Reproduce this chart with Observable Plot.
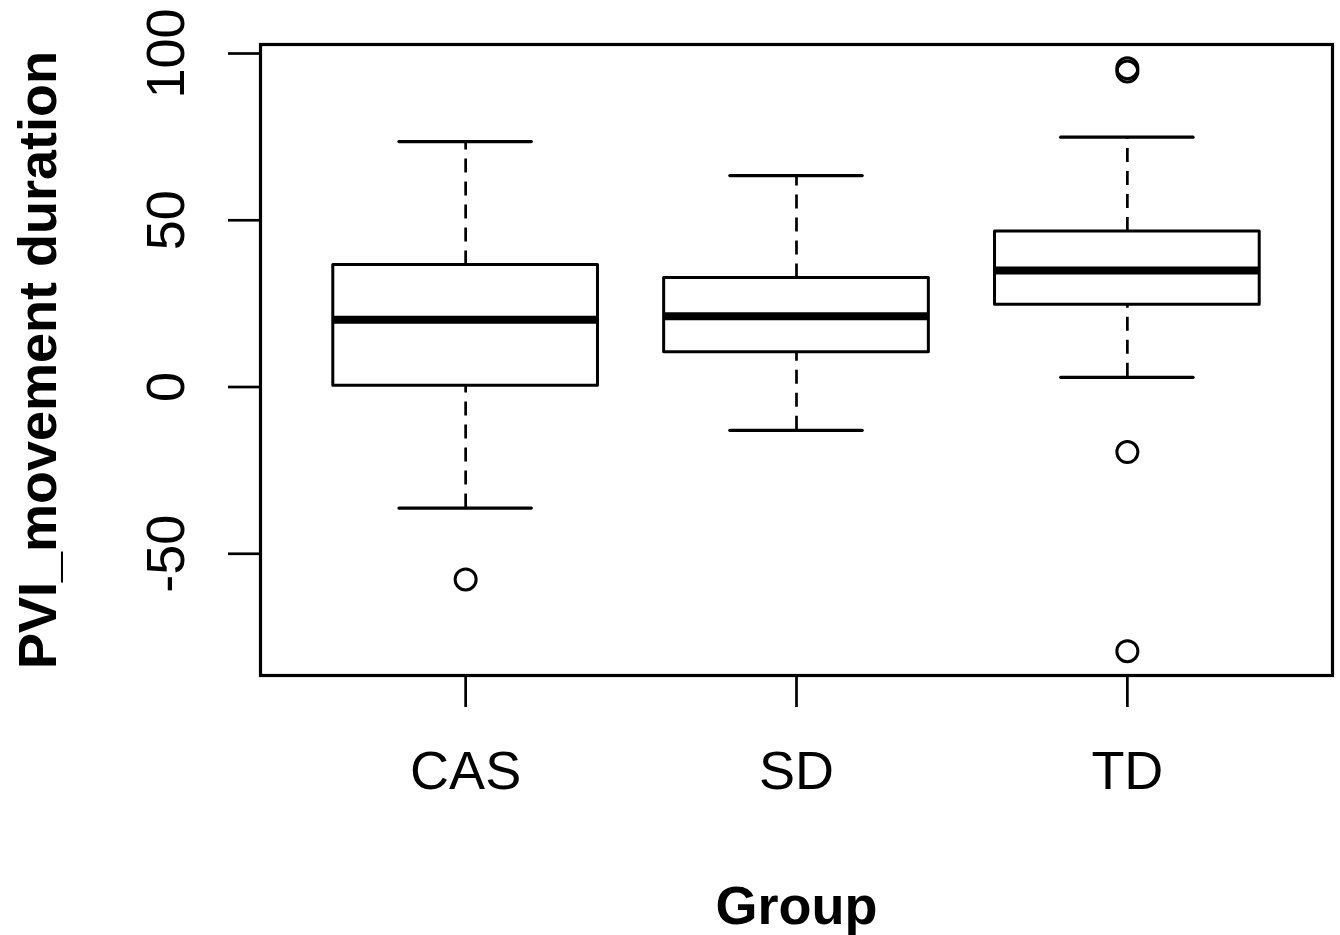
<!DOCTYPE html>
<html>
<head>
<meta charset="utf-8">
<script src="https://cdn.jsdelivr.net/npm/d3@7"></script>
<script src="https://cdn.jsdelivr.net/npm/@observablehq/plot@0.6"></script>
<style>
  html, body { margin: 0; padding: 0; background: #fff; }
  #chart svg { display: block; }
</style>
</head>
<body>
<div id="chart"></div>
<script>
// ---- data ----
const groups      = ["CAS", "SD", "TD"];
const whiskerLow  = [-36.3, -13.0, 2.9];
const q1          = [0.4, 10.4, 24.7];
const medians     = [20.2, 21.2, 34.9];
const q3          = [36.6, 32.7, 46.6];
const whiskerHigh = [73.6, 63.4, 74.9];
const outlierGroup = ["CAS", "TD", "TD", "TD", "TD"];
const outlierValue = [-57.7, 95.6, 94.6, -19.5, -79.2];
const yTicks = [-50, 0, 50, 100];
const yLabel = "PVI_movement duration";
const xLabel = "Group";

// ---- build tables ----
const boxes = groups.map((g, i) => ({
  group: g, pos: i + 1,
  lo: whiskerLow[i], q1: q1[i], med: medians[i], q3: q3[i], hi: whiskerHigh[i]
}));
const outliers = outlierGroup.map((g, i) => ({pos: groups.indexOf(g) + 1, value: outlierValue[i]}));

const halfBox = 0.4, halfCap = 0.2;
const font = "'Liberation Sans', Arial, Helvetica, sans-serif";
const fs = 54;

const chart = Plot.plot({
  width: 1340,
  height: 935,
  marginLeft: 260,
  marginRight: 8,
  marginTop: 44,
  marginBottom: 260,
  style: {fontFamily: font, background: "#fff", color: "#000"},
  x: {type: "linear", domain: [0.38, 3.62], axis: null},
  y: {domain: [-86.5, 102.7], axis: null},
  marks: [
    // whiskers (dashed)
    Plot.ruleX(boxes, {x: "pos", y1: "q3", y2: "hi", stroke: "#000", strokeWidth: 2.7, strokeDasharray: "14,9"}),
    Plot.ruleX(boxes, {x: "pos", y1: "lo", y2: "q1", stroke: "#000", strokeWidth: 2.7, strokeDasharray: "14,9"}),
    // whisker caps
    Plot.ruleY(boxes, {y: "hi", x1: d => d.pos - halfCap, x2: d => d.pos + halfCap, stroke: "#000", strokeWidth: 3.2, strokeLinecap: "round"}),
    Plot.ruleY(boxes, {y: "lo", x1: d => d.pos - halfCap, x2: d => d.pos + halfCap, stroke: "#000", strokeWidth: 3.2, strokeLinecap: "round"}),
    // boxes
    Plot.rect(boxes, {x1: d => d.pos - halfBox, x2: d => d.pos + halfBox, y1: "q1", y2: "q3", fill: "#fff", stroke: "#000", strokeWidth: 3, strokeLinejoin: "round"}),
    // medians
    Plot.ruleY(boxes, {y: "med", x1: d => d.pos - halfBox, x2: d => d.pos + halfBox, stroke: "#000", strokeWidth: 8}),
    // outliers
    Plot.dot(outliers, {x: "pos", y: "value", r: 10.5, stroke: "#000", strokeWidth: 3, fill: "none"}),
    // frame
    Plot.frame({stroke: "#000", strokeWidth: 3.2}),
    // axes
    Plot.axisY(yTicks, {
      tickSize: 32, tickPadding: 45, tickRotate: -90,
      tickFormat: d => String(d),
      textAnchor: "middle", lineAnchor: "bottom",
      fontSize: fs, stroke: "#000", strokeWidth: 2.7, fill: "#000", label: null
    }),
    Plot.axisX([1, 2, 3], {
      tickFormat: i => groups[i - 1],
      tickSize: 32, tickPadding: 43,
      fontSize: fs, stroke: "#000", strokeWidth: 2.7, fill: "#000", label: null
    }),
    // axis titles
    Plot.text([yLabel], {frameAnchor: "left", rotate: -90, dx: -205, lineAnchor: "bottom", textAnchor: "middle", fontSize: fs, fontWeight: "bold", fill: "#000"}),
    Plot.text([xLabel], {frameAnchor: "bottom", dy: 248, lineAnchor: "bottom", textAnchor: "middle", fontSize: fs, fontWeight: "bold", fill: "#000"})
  ]
});
document.getElementById("chart").appendChild(chart);
</script>
</body>
</html>
